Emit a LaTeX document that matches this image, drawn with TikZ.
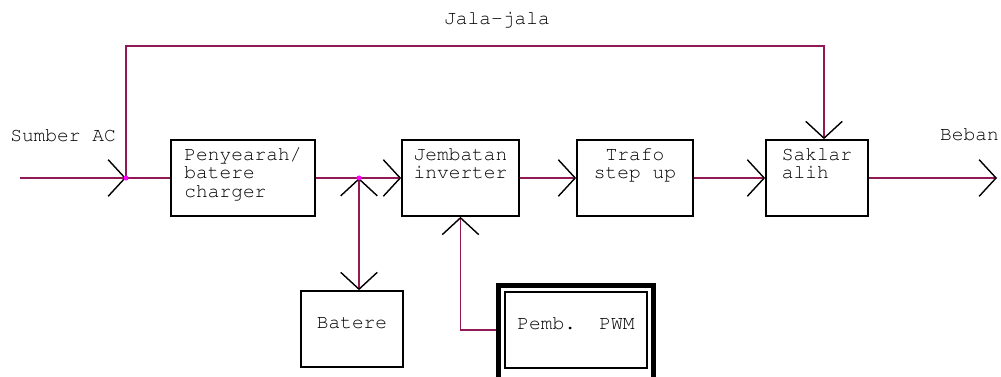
\documentclass[tikz,border=0pt]{standalone}
\usepackage[T1]{fontenc}
\usepackage{courier}
\renewcommand{\familydefault}{\ttdefault}
\usetikzlibrary{arrows.meta}
\definecolor{wirered}{RGB}{145,25,85}
\definecolor{joint}{RGB}{255,0,255}

\begin{document}
\begin{tikzpicture}[x=0.025cm, y=-0.025cm,
  every node/.style={font=\fontsize{13.9}{13.2}\selectfont, inner sep=0pt},
  box/.style={draw=black, line width=1.2pt, minimum height=1.9cm},
  lbl/.style={anchor=north, yshift=-6pt},
  wire/.style={draw=wirered, line width=1.2pt},
  >={Straight Barb[color=black, length=12pt, width=26pt, line width=1pt]},
  flow/.style={wire, ->}
]
  \useasboundingbox (0,0) rectangle (1001,376);

  % blocks
  \node[box, minimum width=3.6cm,
    label={[lbl, align=left]north:Penyearah/\\batere\\charger}] (pen) at (243,178) {};
  \node[box, minimum width=2.925cm,
    label={[lbl, align=center]north:Jembatan\\inverter}] (jem) at (460.5,178) {};
  \node[box, minimum width=2.9cm,
    label={[lbl, align=center]north:Trafo\\step up}] (tra) at (635,178) {};
  \node[box, minimum width=2.55cm,
    label={[lbl, align=left]north:Saklar\\alih}] (sak) at (817,178) {};
  \node[box, minimum width=2.55cm] (bat) at (352,329) {\raisebox{8pt}{Batere}};
  \node[draw=black, line width=3.5pt, minimum width=3.875cm,
    minimum height=2.49cm] (pwmframe) at (576,335) {};
  \node[box, minimum width=3.55cm] (pwm) at (576,330) {\raisebox{10pt}{Pemb. PWM}};

  % texts
  \node[anchor=west] (srctext) at (10,135) {Sumber AC};
  \node[anchor=east] (loadtext) at (999,134) {Beban};
  \node (jalatext) at (497,20) {Jala-jala};

  % points on the lines
  \coordinate (src) at (20,178);
  \coordinate (j1) at (126,178);
  \coordinate (j2) at (359,178);
  \coordinate (out) at (997,178);

  % connectors
  \draw[flow] (src) -- (j1);
  \draw[wire] (j1) -- (pen.west);
  \draw[flow] (j1) -- ++(0,-132) -| ([xshift=0.175cm]sak.north);
  \draw[flow] (pen.east) -- (jem.west);
  \draw[wire, <->] (j2) -- (j2 |- bat.north);
  \draw[flow] (jem.east) -- (tra.west);
  \draw[flow] (tra.east) -- (sak.west);
  \draw[flow] (sak.east) -- (out);
  \draw[flow] (pwmframe.west |- pwm.west) -| (jem.south);

  \fill[joint] (j1) circle (1.8pt);
  \fill[joint] (j2) circle (1.8pt);
\end{tikzpicture}
\end{document}
